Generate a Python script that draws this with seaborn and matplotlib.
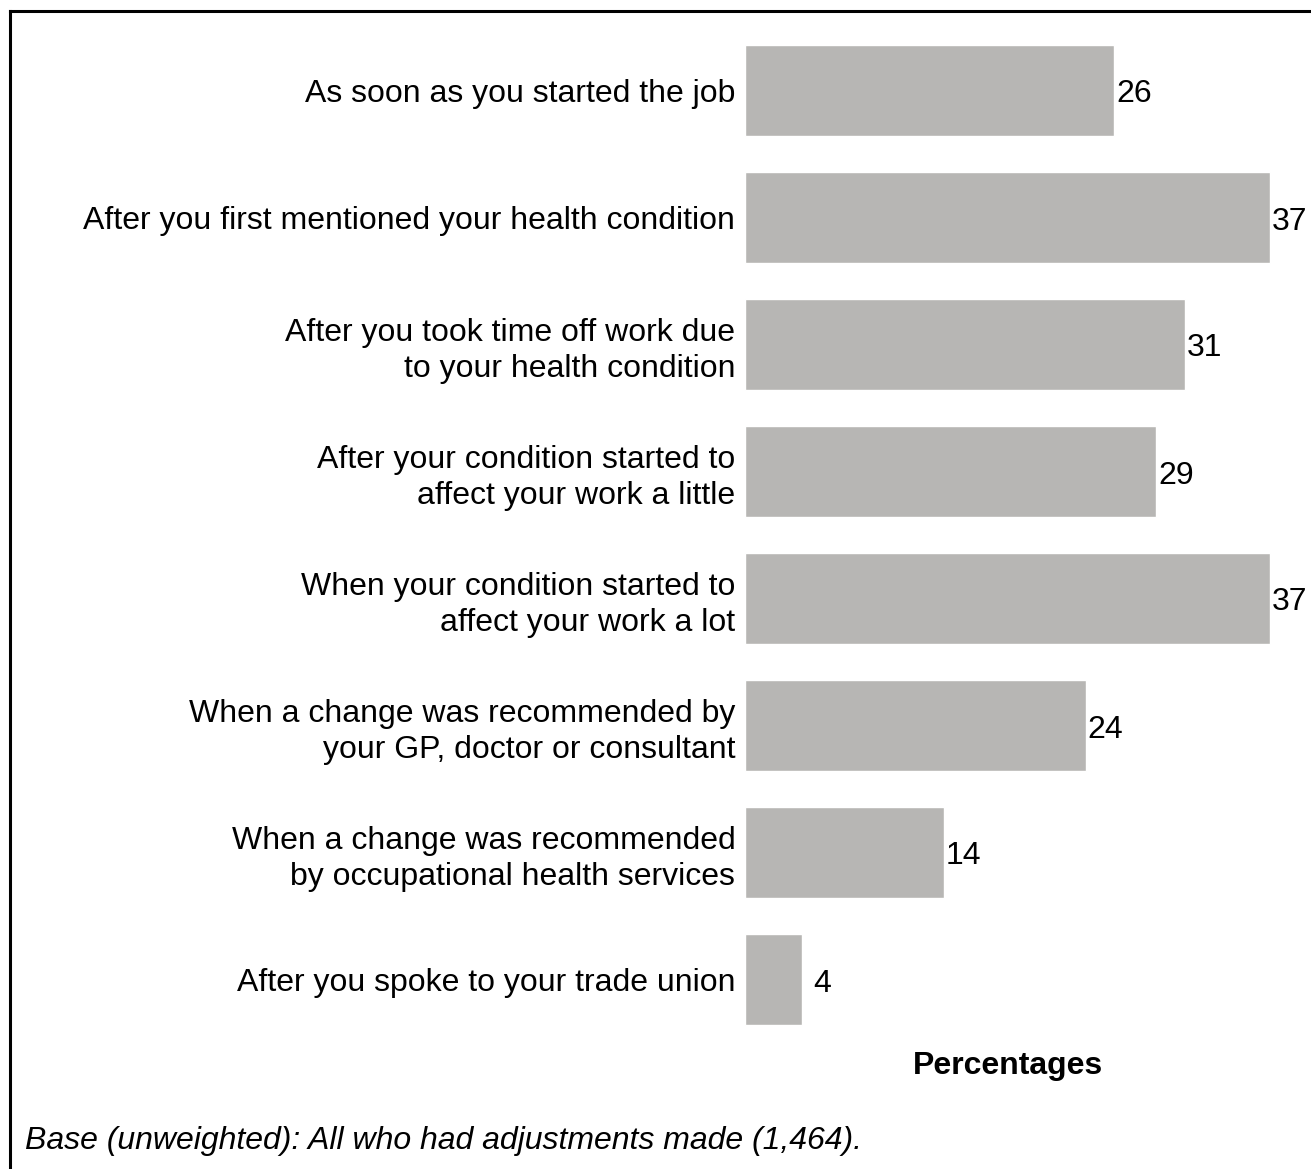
import matplotlib
matplotlib.use("Agg")
import matplotlib.pyplot as plt
from matplotlib.lines import Line2D
import seaborn as sns
import pandas as pd

categories = [
    "As soon as you started the job",
    "After you first mentioned your health condition",
    "After you took time off work due\nto your health condition",
    "After your condition started to\naffect your work a little",
    "When your condition started to\naffect your work a lot",
    "When a change was recommended by\nyour GP, doctor or consultant",
    "When a change was recommended\nby occupational health services",
    "After you spoke to your trade union",
]
values = [26, 37, 31, 29, 37, 24, 14, 4]
x_label = "Percentages"
footnote = "Base (unweighted): All who had adjustments made (1,464)."

sns.set_theme(style="white")
plt.rcParams["font.family"] = ["Liberation Sans", "DejaVu Sans"]
plt.rcParams["text.color"] = "black"

FS = 23

df = pd.DataFrame({"category": categories, "value": values})

W, H = 1311, 1169
fig = plt.figure(figsize=(W / 100, H / 100), dpi=100)
ax = fig.add_axes([745 / W, 1 - 1043 / H, (W - 745) / W, (1043 - 27) / H])

sns.barplot(data=df, x="value", y="category", orient="h", color="#b7b6b4",
            saturation=1, width=0.72, ax=ax)

scale = (1270 - 745) / 37.0
ax.set_xlim(0, (W - 745) / scale)
ax.set_ylim(len(categories) - 0.5, -0.5)

for i, v in enumerate(values):
    ax.annotate(str(v), xy=(v, i), xytext=(20, -4), textcoords="offset pixels",
                ha="center", va="center", fontsize=FS, color="black")

ax.set_xlabel("")
ax.set_ylabel("")
ax.set_xticks([])
ax.tick_params(axis="y", length=0, pad=7, labelsize=FS, labelcolor="black")
for lbl in ax.get_yticklabels():
    lbl.set_linespacing(1.25)
for s in ax.spines.values():
    s.set_visible(False)

fig.text(1008 / W, 1 - 1066 / H, x_label, ha="center", va="center",
         fontsize=FS, fontweight="bold", color="black")
fig.text(25 / W, 1 - 1141 / H, footnote, ha="left", va="center",
         fontsize=FS, style="italic", color="black")

# frame on the left and top edges
fig.add_artist(Line2D([10 / W, 10 / W], [0, 1 - 11 / H], transform=fig.transFigure,
                      color="black", linewidth=2.2, solid_capstyle="projecting"))
fig.add_artist(Line2D([10 / W, 1], [1 - 11 / H, 1 - 11 / H], transform=fig.transFigure,
                      color="black", linewidth=2.2, solid_capstyle="projecting"))

fig.savefig("out.png", dpi=100, facecolor="white")
